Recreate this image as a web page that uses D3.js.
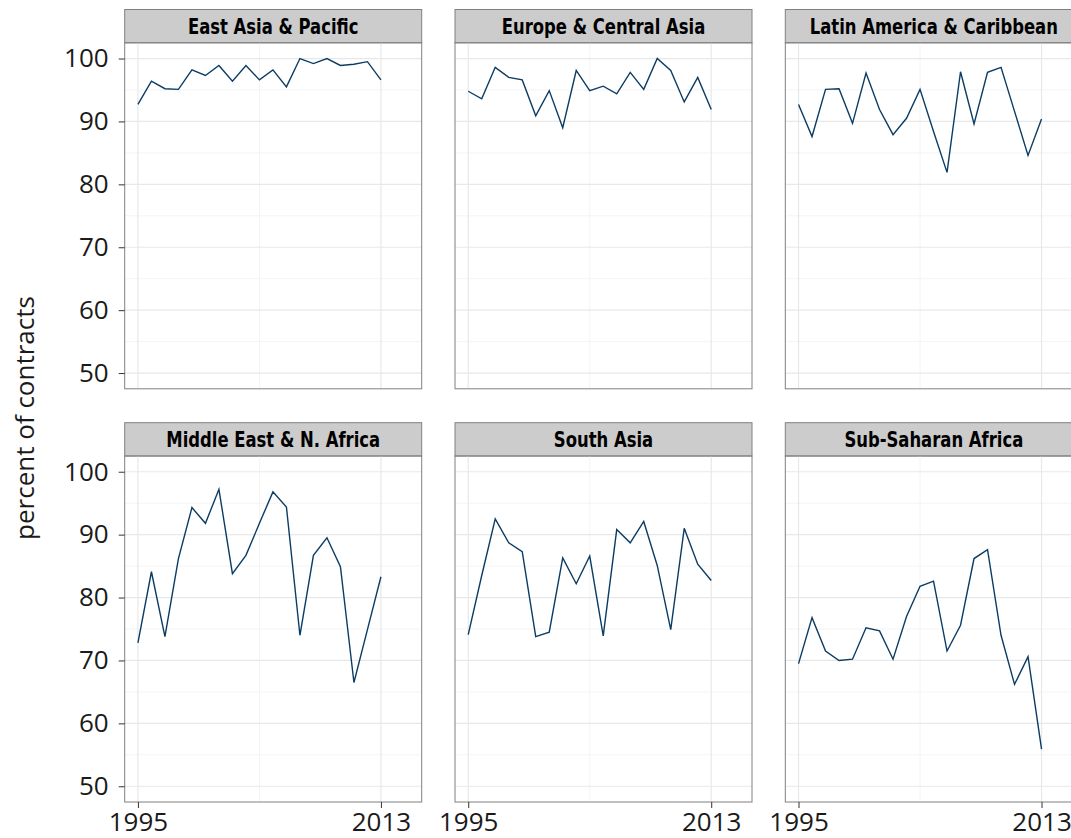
<!DOCTYPE html>
<html>
<head>
<meta charset="utf-8">
<script src="https://cdn.jsdelivr.net/npm/d3@7"></script>
<style>
  body { margin: 0; background: #fff; }
  svg { display: block; }
</style>
</head>
<body>
<div id="chart"></div>
<script>
const years = d3.range(1995, 2014);
const regions = [
  'East Asia & Pacific', 'Europe & Central Asia', 'Latin America & Caribbean',
  'Middle East & N. Africa', 'South Asia', 'Sub-Saharan Africa'
];
const eastAsia = [92.7, 96.4, 95.2, 95.1, 98.2, 97.3, 98.9, 96.4, 98.9, 96.6, 98.2, 95.5, 100, 99.2, 100, 98.9, 99.1, 99.5, 96.6];
const europe = [94.8, 93.6, 98.6, 97.0, 96.6, 90.9, 94.9, 89.0, 98.1, 94.9, 95.6, 94.4, 97.8, 95.1, 100, 98.1, 93.1, 97.0, 91.9];
const latinAmerica = [92.7, 87.6, 95.1, 95.2, 89.7, 97.7, 91.9, 87.9, 90.5, 95.1, 88.4, 81.9, 97.9, 89.6, 97.8, 98.6, 91.6, 84.6, 90.4];
const middleEast = [72.8, 84.1, 73.8, 86.2, 94.3, 91.8, 97.2, 83.8, 86.7, 91.8, 96.8, 94.4, 74.0, 86.7, 89.5, 84.9, 66.5, 74.9, 83.3];
const southAsia = [74.1, 83.5, 92.5, 88.7, 87.3, 73.8, 74.5, 86.3, 82.2, 86.6, 73.9, 90.8, 88.7, 92.1, 85.1, 74.9, 91.0, 85.3, 82.7];
const subSaharan = [69.5, 76.8, 71.5, 70.0, 70.2, 75.2, 74.7, 70.2, 77.0, 81.8, 82.6, 71.5, 75.6, 86.2, 87.6, 74.0, 66.2, 70.6, 55.9];
const seriesList = [eastAsia, europe, latinAmerica, middleEast, southAsia, subSaharan];
const yTicks = [50, 60, 70, 80, 90, 100];
const yMinor = [55, 65, 75, 85, 95];
const xTicks = [1995, 2013];
const xMinor = [2004];

const W = 1071, H = 838;
const panelW = 297, plotH = 346, stripH = 33.3;
const colX = [124.7, 455, 785.3];
const rowTop = [9.5, 422.7];
const lineColor = '#0b3c64';
const tickFont = '"Open Sans", sans-serif';

const svg = d3.select('#chart').append('svg')
  .attr('width', W)
  .attr('height', H);

const x = d3.scaleLinear().domain([1994.02, 2016.02]).range([0, panelW]);
const y = d3.scaleLinear().domain([47.5, 102.5]).range([plotH, 0]);

const line = d3.line()
  .x((d, i) => x(years[i]))
  .y(d => y(d));

regions.forEach((name, k) => {
  const col = k % 3, row = Math.floor(k / 3);
  const g = svg.append('g')
    .attr('transform', `translate(${colX[col]},${rowTop[row]})`);

  // strip
  g.append('rect')
    .attr('x', 0).attr('y', 0)
    .attr('width', panelW).attr('height', stripH)
    .attr('fill', '#cccccc')
    .attr('stroke', '#808080')
    .attr('stroke-width', 1);
  g.append('text')
    .attr('transform', `translate(${panelW / 2},${stripH / 2 + 1}) scale(0.87,1)`)
    .attr('text-anchor', 'middle')
    .attr('dominant-baseline', 'central')
    .style('font-family', '"Liberation Sans Narrow", "DejaVu Sans Condensed", sans-serif')
    .style('font-weight', 'bold')
    .style('font-size', '21px')
    .attr('fill', '#000')
    .text(name);

  const p = g.append('g').attr('transform', `translate(0,${stripH})`);

  p.selectAll('.ymin').data(yMinor).enter().append('line')
    .attr('x1', 0).attr('x2', panelW)
    .attr('y1', d => y(d)).attr('y2', d => y(d))
    .attr('stroke', '#f4f4f4').attr('stroke-width', 1);
  p.selectAll('.xmin').data(xMinor).enter().append('line')
    .attr('y1', 0).attr('y2', plotH)
    .attr('x1', d => x(d)).attr('x2', d => x(d))
    .attr('stroke', '#f4f4f4').attr('stroke-width', 1);
  p.selectAll('.ymaj').data(yTicks).enter().append('line')
    .attr('x1', 0).attr('x2', panelW)
    .attr('y1', d => y(d)).attr('y2', d => y(d))
    .attr('stroke', '#e8e8e8').attr('stroke-width', 1.2);
  p.selectAll('.xmaj').data(xTicks).enter().append('line')
    .attr('y1', 0).attr('y2', plotH)
    .attr('x1', d => x(d)).attr('x2', d => x(d))
    .attr('stroke', '#e8e8e8').attr('stroke-width', 1.2);

  p.append('path')
    .datum(seriesList[k])
    .attr('d', line)
    .attr('fill', 'none')
    .attr('stroke', lineColor)
    .attr('stroke-width', 1.4);

  p.append('rect')
    .attr('width', panelW).attr('height', plotH)
    .attr('fill', 'none')
    .attr('stroke', '#808080')
    .attr('stroke-width', 1);

  if (col === 0) {
    const ax = p.append('g')
      .call(d3.axisLeft(y).tickValues(yTicks).tickSize(6).tickPadding(10));
    ax.select('.domain').remove();
    ax.selectAll('line').attr('stroke', '#333');
    ax.selectAll('text')
      .style('font-family', tickFont)
      .style('font-size', '26px')
      .attr('fill', '#1a1a1a');
  }
  if (row === 1) {
    const ax = p.append('g')
      .attr('transform', `translate(0,${plotH})`)
      .call(d3.axisBottom(x).tickValues(xTicks).tickFormat(d3.format('d')).tickSize(6).tickPadding(5));
    ax.select('.domain').remove();
    ax.selectAll('line').attr('stroke', '#333');
    ax.selectAll('text')
      .style('font-family', tickFont)
      .style('font-size', '26px')
      .attr('fill', '#1a1a1a');
  }
});

svg.append('text')
  .attr('transform', 'translate(24,418) rotate(-90)')
  .attr('text-anchor', 'middle')
  .attr('dominant-baseline', 'central')
  .style('font-family', tickFont)
  .style('font-size', '26px')
  .attr('fill', '#1a1a1a')
  .text('percent of contracts');
</script>
</body>
</html>
